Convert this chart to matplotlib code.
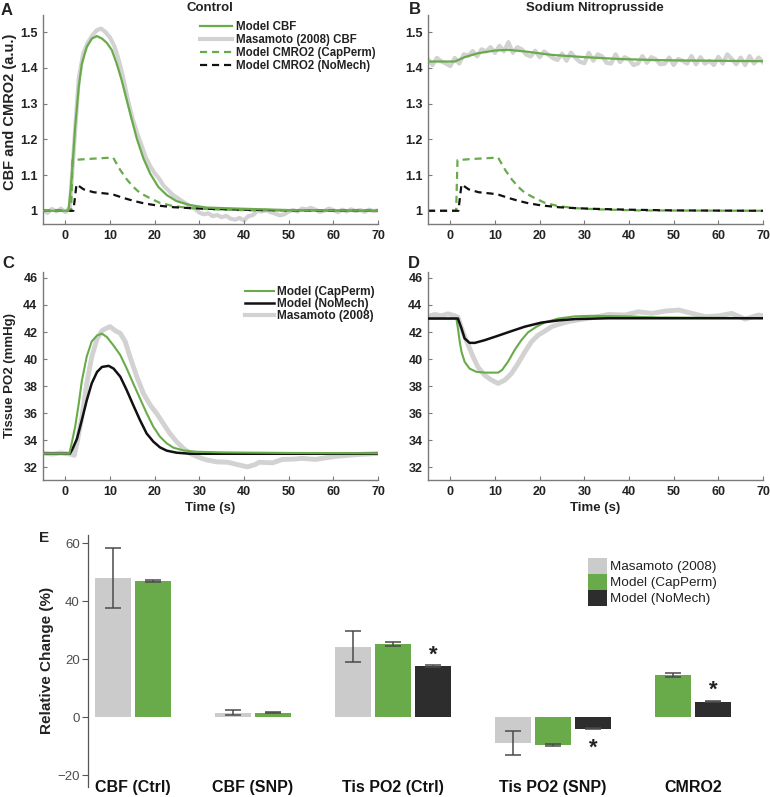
import numpy as np
import matplotlib
matplotlib.use("Agg")
import matplotlib.pyplot as plt
from matplotlib import font_manager
from matplotlib.lines import Line2D
from matplotlib.patches import Patch

# ---------------- DATA ----------------
# Panel A / B : time (s)
tA_gray = np.arange(-5, 71)
A_masamoto_cbf = [1.002, 0.994, 1.005, 0.998, 1.006, 0.996, 1.01, 1.19, 1.37, 1.44,
                  1.47, 1.49, 1.505, 1.51, 1.50, 1.485, 1.46, 1.42, 1.37, 1.31,
                  1.26, 1.22, 1.185, 1.15, 1.125, 1.105, 1.09, 1.07, 1.058, 1.045,
                  1.037, 1.028, 1.02, 1.012, 1.006, 0.995, 0.99, 0.993, 0.985, 0.988,
                  0.982, 0.986, 0.978, 0.975, 0.98, 0.973, 0.985, 0.988, 1.0, 0.998,
                  1.002, 0.996, 0.992, 0.987, 0.99, 0.998, 1.002, 0.998, 1.006, 1.004,
                  1.008, 1.003, 0.997, 1.0, 1.006, 1.002, 0.996, 1.003, 0.998, 1.004,
                  0.999, 1.002, 0.997, 1.003, 0.999, 1.001]

tA_cbf = [-5, 0.7, 1.26, 1.7, 2.2, 3.0, 3.7, 4.8, 5.95, 7.06, 8.2, 9.3, 10.4, 11.5,
          12.6, 13.75, 14.9, 16.0, 17.5, 19.0, 20.8, 22.7, 24.9, 27.9, 31.6, 39.0, 50, 70]
A_model_cbf = [1.0, 1.0, 1.067, 1.142, 1.235, 1.347, 1.412, 1.459, 1.482, 1.489, 1.482,
               1.47, 1.45, 1.412, 1.366, 1.31, 1.254, 1.202, 1.146, 1.104, 1.067, 1.044,
               1.027, 1.016, 1.009, 1.006, 1.002, 1.0]

t_cmro2_cap = [-5, 1.3, 1.6, 5, 10.7, 12.3, 13.75, 15.2, 16.7, 19.0, 21.2, 24.2, 27.9, 33, 42, 70]
cmro2_capperm = [1.0, 1.0, 1.142, 1.145, 1.149, 1.114, 1.088, 1.067, 1.05, 1.035, 1.022,
                 1.013, 1.0075, 1.004, 1.001, 1.0]
t_cmro2_nomech = [-5, 1.8, 2.5, 4.1, 6.3, 9.3, 10.8, 13.0, 15.2, 17.5, 20.4, 24.2, 27.9, 31.6, 40, 50, 70]
cmro2_nomech = [1.0, 1.0, 1.074, 1.06, 1.052, 1.048, 1.045, 1.036, 1.028, 1.021, 1.015,
                1.01, 1.0075, 1.0056, 1.003, 1.001, 1.0]

tB_gray = np.arange(-5, 71)
B_masamoto_cbf = [1.424, 1.408, 1.428, 1.418, 1.412, 1.405, 1.428, 1.412, 1.438, 1.434,
                  1.447, 1.432, 1.452, 1.446, 1.458, 1.442, 1.462, 1.446, 1.472, 1.442,
                  1.458, 1.452, 1.437, 1.432, 1.448, 1.43, 1.446, 1.436, 1.427, 1.422,
                  1.44, 1.42, 1.443, 1.428, 1.417, 1.413, 1.442, 1.42, 1.438, 1.432,
                  1.414, 1.412, 1.438, 1.416, 1.43, 1.424, 1.408, 1.412, 1.433, 1.414,
                  1.43, 1.424, 1.41, 1.412, 1.429, 1.408, 1.425, 1.42, 1.412, 1.433,
                  1.41, 1.43, 1.412, 1.42, 1.408, 1.431, 1.412, 1.438, 1.425, 1.41,
                  1.429, 1.408, 1.433, 1.412, 1.429, 1.416]
tB_cbf = [-5, 1.0, 3.2, 6.2, 10, 12.9, 16.7, 22.7, 30.1, 37.6, 45.1, 52.6, 70]
B_model_cbf = [1.4178, 1.4178, 1.43, 1.441, 1.4486, 1.4505, 1.446, 1.4364, 1.43, 1.425,
               1.422, 1.4206, 1.4187]

# Panel C : tissue PO2, control
tC_gray = [-5, -3, -1, 0.5, 1.5, 2.0, 2.6, 3.7, 4.8, 5.9, 7.1, 8.2, 9.3, 10.0, 11.2, 12.3,
           13.4, 14.5, 16.0, 17.5, 19.0, 20.4, 21.9, 23.4, 24.9, 26.4, 27.9, 29.4, 30.5,
           31.7, 33.9, 36.4, 38.5, 40.8, 42.5, 43.4, 46.4, 48.6, 51, 53, 56, 58.3, 60.5,
           62.7, 65.7, 68.8, 70]
C_masamoto = [33.05, 32.98, 33.06, 33.0, 32.95, 32.88, 33.77, 35.7, 38.2, 40.15, 41.5,
              42.1, 42.3, 42.4, 42.1, 41.9, 41.3, 40.15, 38.7, 37.45, 36.6, 36.0, 35.25,
              34.5, 33.9, 33.4, 33.03, 32.8, 32.66, 32.54, 32.4, 32.37, 32.2, 32.03, 32.2,
              32.37, 32.33, 32.58, 32.6, 32.66, 32.58, 32.7, 32.8, 32.87, 32.95, 33.0, 33.03]
tC_cap = [-5, 0.9, 1.5, 2.2, 3.0, 3.7, 4.8, 5.9, 7.1, 8.2, 9.3, 10.8, 12.3, 13.75, 15.2,
          16.7, 18.2, 19.7, 21.2, 22.7, 24.2, 26.4, 29.4, 35.3, 50, 70]
C_capperm = [33.0, 33.0, 33.9, 35.0, 36.7, 38.4, 40.2, 41.3, 41.75, 41.88, 41.63, 41.0,
             40.3, 39.3, 38.2, 37.1, 36.0, 35.0, 34.26, 33.77, 33.45, 33.25, 33.15, 33.1,
             33.06, 33.03]
tC_nomech = [-5, 1.0, 1.5, 2.6, 3.7, 4.8, 5.9, 7.1, 8.2, 9.7, 10.8, 12.3, 13.75, 15.2,
             16.7, 18.2, 19.7, 21.2, 22.7, 24.9, 27.9, 70]
C_nomech = [33.0, 33.0, 33.28, 34.1, 35.5, 36.96, 38.2, 39.05, 39.42, 39.5, 39.3, 38.7,
            37.7, 36.6, 35.5, 34.5, 33.9, 33.47, 33.23, 33.08, 33.0, 33.0]

# Panel D : tissue PO2, SNP
tD_gray = [-5, -3.5, -2, -0.5, 1.0, 1.7, 2.8, 4.0, 5.1, 6.2, 7.7, 9.2, 10.7, 12.2, 13.7,
           15.2, 16.7, 18.2, 19.7, 21.2, 22.7, 24.2, 26.4, 28.6, 31.6, 35.4, 39.1, 42.1,
           45.1, 48.1, 51.1, 54.1, 57.1, 60.1, 63, 66, 69, 70]
D_masamoto = [43.15, 43.3, 43.2, 43.35, 43.2, 43.1, 42.0, 41.04, 40.17, 39.4, 38.8, 38.45,
              38.2, 38.45, 38.94, 39.7, 40.54, 41.3, 41.78, 42.07, 42.4, 42.57, 42.77,
              42.9, 43.05, 43.3, 43.26, 43.5, 43.38, 43.55, 43.63, 43.38, 43.14, 43.2,
              43.38, 42.96, 43.26, 43.2]
tD_cap = [-5, 1.35, 1.7, 2.1, 2.5, 3.2, 4.3, 5.8, 7.7, 10.7, 11.6, 12.9, 14.4, 15.9, 17.4,
          19.3, 21.2, 24.2, 27.9, 31.6, 39.1, 46.6, 70]
D_capperm = [43.0, 43.0, 42.27, 41.3, 40.54, 39.8, 39.3, 39.06, 39.0, 39.0, 39.2, 39.8,
             40.67, 41.4, 41.98, 42.4, 42.72, 43.0, 43.16, 43.2, 43.16, 43.08, 43.03]
tD_nomech = [-5, 1.7, 2.5, 3.2, 4.3, 5.5, 7.7, 10.7, 13.7, 16.7, 20.4, 24.2, 27.9, 35.4, 70]
D_nomech = [43.0, 43.0, 42.27, 41.53, 41.2, 41.2, 41.4, 41.73, 42.07, 42.4, 42.7, 42.86,
            42.96, 43.02, 43.02]

# Panel E : relative change (%)
categories = ['CBF (Ctrl)', 'CBF (SNP)', 'Tis PO2 (Ctrl)', 'Tis PO2 (SNP)', 'CMRO2']
series_names = ['Masamoto (2008)', 'Model (CapPerm)', 'Model (NoMech)']
E_masamoto = [48.05, 1.65, 24.4, -8.8, np.nan]
E_masamoto_err = [10.35, 0.95, 5.4, 4.1, np.nan]
E_capperm = [47.1, 1.6, 25.3, -9.5, 14.6]
E_capperm_err = [0.4, 0.2, 0.6, 0.25, 0.6]
E_nomech = [np.nan, np.nan, 17.6, -3.9, 5.4]
E_nomech_err = [np.nan, np.nan, 0.3, 0.2, 0.2]
star_cats = [2, 3, 4]          # categories with significance mark on NoMech bar
star_vals = [23.9, -8.1, 11.7]  # centre of the asterisk (value units)

# ---------------- STYLE ----------------
names = {f.name for f in font_manager.fontManager.ttflist}
MAIN = 'Liberation Sans' if 'Liberation Sans' in names else 'DejaVu Sans'
plt.rcParams['font.family'] = [MAIN, 'DejaVu Sans']

GREEN = '#69ab4a'
GRAY = '#d2d2d2'
BLACK = '#111111'
SPINE = '#7a7a7a'
TXT = '#222222'

W, H = 770, 797
fig = plt.figure(figsize=(W / 100, H / 100), dpi=100)


def ax_px(l, t, r, b):
    return fig.add_axes([l / W, 1 - b / H, (r - l) / W, (b - t) / H])


def ftext(x, y, s, **kw):
    return fig.text(x / W, 1 - y / H, s, **kw)


def style_line_axes(ax, ylim, yticks, yticklabels):
    ax.set_xlim(-5, 70)
    ax.set_ylim(*ylim)
    for s in ['top', 'right']:
        ax.spines[s].set_visible(False)
    for s in ['left', 'bottom']:
        ax.spines[s].set_color(SPINE)
        ax.spines[s].set_linewidth(1.0)
    ax.set_xticks(range(0, 71, 10))
    ax.set_yticks(yticks)
    ax.set_yticklabels(yticklabels)
    ax.tick_params(direction='in', length=3, width=0.8, color=SPINE, labelsize=9,
                   labelcolor=TXT, pad=4)
    for lbl in ax.get_xticklabels() + ax.get_yticklabels():
        lbl.set_fontweight('bold')


axA = ax_px(43, 15, 378, 224)
axB = ax_px(428, 15, 763, 224)
axC = ax_px(43, 272, 378, 480)
axD = ax_px(428, 272, 763, 480)
axE = ax_px(88, 535, 760, 787)

cbf_ticks = [1, 1.1, 1.2, 1.3, 1.4, 1.5]
cbf_labels = ['1', '1.1', '1.2', '1.3', '1.4', '1.5']
po2_ticks = list(range(32, 47, 2))

dash = (3.2, 2.2)

# Panel A
axA.plot(tA_gray, A_masamoto_cbf, color=GRAY, lw=3.0, solid_joinstyle='round', zorder=1)
axA.plot(tA_cbf, A_model_cbf, color=GREEN, lw=1.6, zorder=3)
axA.plot(t_cmro2_cap, cmro2_capperm, color=GREEN, lw=1.6, ls=(0, dash), zorder=2)
axA.plot(t_cmro2_nomech, cmro2_nomech, color=BLACK, lw=1.6, ls=(0, dash), zorder=2)
style_line_axes(axA, (0.963, 1.548), cbf_ticks, cbf_labels)

# Panel B
axB.plot(tB_gray, B_masamoto_cbf, color=GRAY, lw=3.0, zorder=1)
axB.plot(tB_cbf, B_model_cbf, color=GREEN, lw=1.6, zorder=3)
axB.plot(t_cmro2_cap, cmro2_capperm, color=GREEN, lw=1.6, ls=(0, dash), zorder=2)
axB.plot(t_cmro2_nomech, cmro2_nomech, color=BLACK, lw=1.6, ls=(0, dash), zorder=2)
style_line_axes(axB, (0.963, 1.548), cbf_ticks, cbf_labels)

# Panel C
axC.plot(tC_gray, C_masamoto, color=GRAY, lw=3.5, zorder=1)
axC.plot(tC_cap, C_capperm, color=GREEN, lw=1.5, zorder=3)
axC.plot(tC_nomech, C_nomech, color=BLACK, lw=1.8, zorder=2)
style_line_axes(axC, (31.06, 46.44), po2_ticks, [str(v) for v in po2_ticks])

# Panel D
axD.plot(tD_gray, D_masamoto, color=GRAY, lw=3.5, zorder=1)
axD.plot(tD_cap, D_capperm, color=GREEN, lw=1.5, zorder=2)
axD.plot(tD_nomech, D_nomech, color=BLACK, lw=1.8, zorder=3)
style_line_axes(axD, (31.06, 46.44), po2_ticks, [str(v) for v in po2_ticks])

# Legends A and C
legA_handles = [Line2D([], [], color=GREEN, lw=1.6),
                Line2D([], [], color=GRAY, lw=3.0),
                Line2D([], [], color=GREEN, lw=1.6, ls=(0, dash)),
                Line2D([], [], color=BLACK, lw=1.6, ls=(0, dash))]
legA_labels = ['Model CBF', 'Masamoto (2008) CBF', 'Model CMRO2 (CapPerm)', 'Model CMRO2 (NoMech)']
axA.legend(legA_handles, legA_labels, loc='upper left',
           bbox_to_anchor=(200 / W, 1 - 21 / H), bbox_transform=fig.transFigure,
           frameon=False, borderpad=0, borderaxespad=0, handlelength=2.8,
           handletextpad=0.3, labelspacing=0.1,
           prop={'family': MAIN, 'weight': 'bold', 'size': 8.3}, labelcolor=TXT)

legC_handles = [Line2D([], [], color=GREEN, lw=1.5),
                Line2D([], [], color=BLACK, lw=1.8),
                Line2D([], [], color=GRAY, lw=3.0)]
legC_labels = ['Model (CapPerm)', 'Model (NoMech)', 'Masamoto (2008)']
axC.legend(legC_handles, legC_labels, loc='upper left',
           bbox_to_anchor=(245 / W, 1 - 286 / H), bbox_transform=fig.transFigure,
           frameon=False, borderpad=0, borderaxespad=0, handlelength=2.4,
           handletextpad=0.3, labelspacing=0.0,
           prop={'family': MAIN, 'weight': 'bold', 'size': 8.6}, labelcolor=TXT)

# Titles, labels, panel letters
ftext(210, 8, 'Control', ha='center', va='center', fontsize=9.5, fontweight='bold', color=TXT)
ftext(595, 8, 'Sodium Nitroprusside', ha='center', va='center', fontsize=9.5,
      fontweight='bold', color=TXT)
ftext(10, 112, 'CBF and CMRO2 (a.u.)', ha='center', va='center', rotation=90,
      fontsize=10.5, fontweight='bold', color=TXT)
ftext(10, 375, 'Tissue PO2 (mmHg)', ha='center', va='center', rotation=90,
      fontsize=9.5, fontweight='bold', color=TXT)
ftext(210, 508, 'Time (s)', ha='center', va='center', fontsize=9.5, fontweight='bold', color=TXT)
ftext(595, 508, 'Time (s)', ha='center', va='center', fontsize=9.5, fontweight='bold', color=TXT)
for letter, (x, y) in zip('ABCD', [(1, 3), (409, 2), (2, 256), (408, 256)]):
    ftext(x, y, letter, ha='left', va='top', fontsize=12, fontweight='bold', color=TXT)
ftext(39, 531, 'E', ha='left', va='top', fontsize=11, fontweight='bold', color=TXT)

# ---------------- Panel E ----------------
group_base = [0, 3, 6, 10, 13]
series_vals = [E_masamoto, E_capperm, E_nomech]
series_errs = [E_masamoto_err, E_capperm_err, E_nomech_err]
series_cols = ['#cbcbcb', '#69ab4a', '#2d2d2d']
handlesE = []
present = [[] for _ in categories]
for k, (vals, errs, col) in enumerate(zip(series_vals, series_errs, series_cols)):
    xs, vs, es = [], [], []
    for i, (v, e) in enumerate(zip(vals, errs)):
        if np.isnan(v):
            continue
        xs.append(group_base[i] + k)
        vs.append(v)
        es.append(e)
        present[i].append(group_base[i] + k)
    axE.bar(xs, vs, width=0.9, color=col, edgecolor='none', zorder=2)
    axE.errorbar(xs, vs, yerr=es, fmt='none', ecolor='#4a4a4a', elinewidth=1.1,
                 capsize=5.5, capthick=1.1, zorder=3)
    handlesE.append(Patch(facecolor=col, edgecolor='none'))

label_pos = [np.mean(p) for p in present]
for ci, sv in zip(star_cats, star_vals):
    axE.text(group_base[ci] + 2, sv - 4.4, '*', ha='center', va='baseline',
             fontsize=16, fontweight='bold', color='#222222', zorder=4)

axE.set_xlim(-0.625, 16.175)
axE.set_ylim(-24.03, 62.86)
for s in ['top', 'right', 'bottom']:
    axE.spines[s].set_visible(False)
axE.spines['left'].set_color('#555555')
axE.spines['left'].set_linewidth(0.9)
axE.set_yticks([-20, 0, 20, 40, 60])
axE.set_yticklabels(['\u221220', '0', '20', '40', '60'])
axE.tick_params(axis='y', direction='out', length=4, width=0.8, color='#555555',
                labelsize=9.5, labelcolor='#4d4d4d', pad=2)
axE.set_xticks(label_pos)
axE.set_xticklabels(categories)
axE.tick_params(axis='x', length=0, pad=0.4, labelsize=11.5, labelcolor='#111111')
for lbl in axE.get_xticklabels():
    lbl.set_fontweight('bold')
    lbl.set_va('center')

ftext(47, 660, 'Relative Change (%)', ha='center', va='center', rotation=90,
      fontsize=11, fontweight='bold', color='#222222')

axE.legend(handlesE, series_names, loc='upper left',
           bbox_to_anchor=(588 / W, 1 - 558 / H), bbox_transform=fig.transFigure,
           frameon=False, borderpad=0, borderaxespad=0, handlelength=1.4,
           handleheight=1.45, handletextpad=0.2, labelspacing=0.0,
           prop={'family': MAIN, 'size': 9.7}, labelcolor='#222222')

fig.savefig('out.png', dpi=100)
